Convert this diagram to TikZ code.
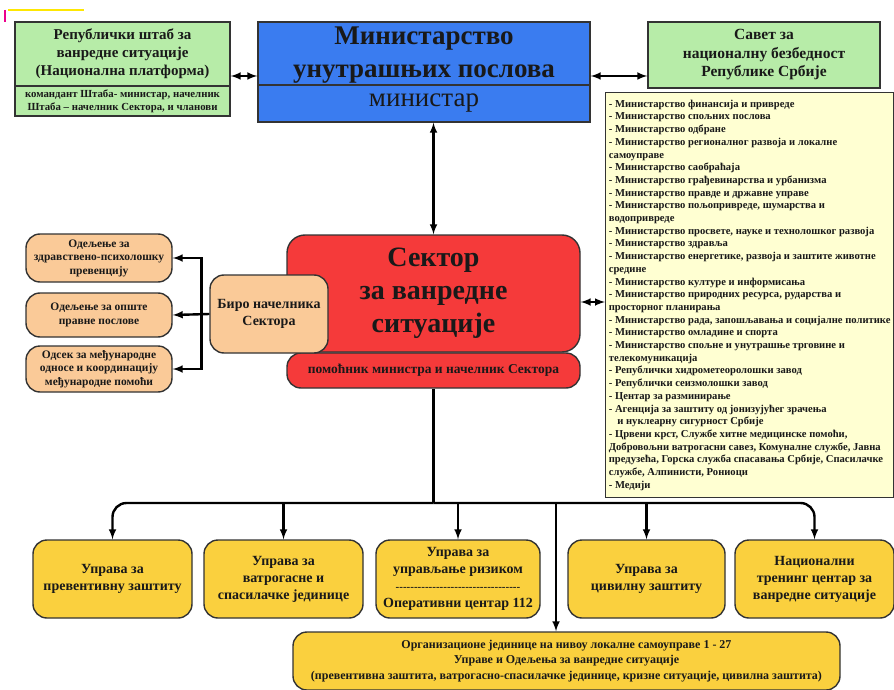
\documentclass[tikz,border=0pt]{standalone}
\usepackage{fontspec}
\setmainfont{Liberation Serif}[Ligatures=TeXOff]
\usepackage{tikz}
\usetikzlibrary{calc}

\definecolor{stabgreen}{RGB}{183,236,168}
\definecolor{mupblue}{RGB}{58,124,240}
\definecolor{sectorred}{RGB}{245,58,58}
\definecolor{biroorange}{RGB}{250,202,152}
\definecolor{upravagold}{RGB}{250,208,62}
\definecolor{listyellow}{RGB}{255,255,210}

\begin{document}
\begin{tikzpicture}[x=1pt, y=-1pt,
		box/.style={draw=black!80, line width=1.4pt, align=center, inner sep=0pt, text=black!90},
		flatbox/.style={box},
		roundbox/.style={box, rounded corners=14pt},
		link/.style={line width=2.4pt, black},
		both/.style={link, latex-latex},
		tip/.style={link, -latex},
		odel/.style={roundbox, fill=biroorange, minimum width=146, font=\fontsize{11.5}{13.5}\selectfont\bfseries},
		uprava/.style={roundbox, fill=upravagold, minimum height=78, font=\fontsize{14}{17}\selectfont\bfseries},
	]
		\fill[white] (0,0) rectangle (894,690);
		\useasboundingbox (0,0) rectangle (894,690);
		
		\coordinate (toprow) at (0,76);
		\coordinate (listrow) at (0,302);
		\coordinate (bus) at (433,503);
		\coordinate (lokal) at (556,503);
		
		% marks in the corner
		\draw[yellow!90!orange, line width=1.5pt] (8,10) -- (84,10);
		\draw[magenta, line width=1.5pt] (5,10) -- (5,22);
		
		% top row
		\node[flatbox, fill=stabgreen, minimum width=215, minimum height=64, font=\fontsize{15}{18}\selectfont\bfseries] (shtab) at (122.5,54) {Републички штаб за\\ванредне ситуације\\(Национална платформа)};
		\node[flatbox, fill=stabgreen, minimum width=215, minimum height=30, font=\fontsize{10.8}{13}\selectfont\bfseries] (shtabsub) at (122.5,101) {командант Штаба- министар, начелник\\Штаба – начелник Сектора, и чланови};
		\node[flatbox, fill=mupblue, minimum width=332, minimum height=63, font=\fontsize{27}{33}\selectfont\bfseries] (mup) at (424,53.5) {\rule{0pt}{20pt}Министарство\\унутрашњих послова};
		\node[flatbox, fill=mupblue, minimum width=332, minimum height=37, font=\fontsize{27}{30}\selectfont] (mupmin) at (424,103.5) {министар};
		\node[flatbox, fill=stabgreen, minimum width=232, minimum height=66, font=\fontsize{15.5}{18.5}\selectfont\bfseries] (savet) at (764,55) {Савет за\\националну безбедност\\Републике Србије};
		
		% list of ministries
		\node[flatbox, fill=listyellow, align=left, anchor=north west, minimum width=288, minimum height=405, font=\fontsize{10.6}{12.7}\selectfont\bfseries] (list) at (605,92) {- Министарство финансија и привреде\\
			- Министарство спољних послова\\
			- Министарство одбране\\
			- Министарство регионалног развоја и локалне\\
			самоуправе\\
			- Министарство саобраћаја\\
			- Министарство грађевинарства и урбанизма\\
			- Министарство правде и државне управе\\
			- Министарство пољопривреде, шумарства и\\
			водопривреде\\
			- Министарство просвете, науке и технолошког развоја\\
			- Министарство здравља\\
			- Министарство енергетике, развоја и заштите животне\\
			средине\\
			- Министарство културе и информисања\\
			- Министарство природних ресурса, рударства и\\
			просторног планирања\\
			- Министарство рада, запошљавања и социјалне политике\\
			- Министарство омладине и спорта\\
			- Министарство спољне и унутрашње трговине и\\
			телекомуникација\\
			- Републички хидрометеоролошки завод\\
			- Републички сеизмолошки завод\\
			- Центар за разминирање\\
			- Агенција за заштиту од јонизујућег зрачења\\
			\hspace*{0.8em}и нуклеарну сигурност Србије\\
			- Црвени крст, Службе хитне медицинске помоћи,\\
			Добровољни ватрогасни савез, Комуналне службе, Јавна\\
			предузећа, Горска служба спасавања Србије, Спасилачке\\
			службе, Алпинисти, Рониоци\\
			- Медији};
		
		% sector
		\node[roundbox, rounded corners=18pt, fill=sectorred, minimum width=293, minimum height=117, font=\fontsize{28}{33}\selectfont\bfseries] (sector) at (433.5,293.5) {Сектор\\за ванредне\\ситуације};
		\node[roundbox, fill=sectorred, minimum width=293, minimum height=35, font=\fontsize{13.5}{16}\selectfont\bfseries] (pomocnik) at (433.5,370.5) {помоћник министра и начелник Сектора};
		\node[roundbox, fill=biroorange, minimum width=118, minimum height=78, font=\fontsize{14}{17}\selectfont\bfseries] (biro) at (269,314) {Биро начелника\\Сектора};
		
		\node[odel, minimum height=48] (odel1) at (99,258) {Одељење за\\здравствено-психолошку\\превенцију};
		\node[odel, minimum height=44] (odel2) at (99,315) {Одељење за опште\\правне послове};
		\node[odel, minimum height=46] (odel3) at (99,369) {Одсек за међународне\\односе и координацију\\међународне помоћи};
		
		% directorates
		\node[uprava, minimum width=159] (u1) at (112.5,579) {Управа за\\превентивну заштиту};
		\node[uprava, minimum width=159] (u2) at (283.5,579) {Управа за\\ватрогасне и\\спасилачке јединице};
		\node[uprava, minimum width=164] (u3) at (458,579) {Управа за\\управљање ризиком\\{\fontsize{11}{17}\selectfont ----------------------------------}\\Оперативни центар 112};
		\node[uprava, minimum width=157] (u4) at (646.5,579) {Управа за\\цивилну заштиту};
		\node[uprava, minimum width=159] (u5) at (814.5,579) {Национални\\тренинг центар за\\ванредне ситуације};
		\node[roundbox, fill=upravagold, minimum width=547, minimum height=58, font=\fontsize{12}{15.5}\selectfont\bfseries] (org) at (566.5,661) {Организационе јединице на нивоу локалне самоуправе 1 - 27\\Управе и Одељења за ванредне ситуације\\(превентивна заштита, ватрогасно-спасилачке јединице, кризне ситуације, цивилна заштита)};
		
		% connectors
		\draw[both] (shtab.east |- toprow) -- (mup.west |- toprow);
		\draw[both] (mup.east |- toprow) -- (savet.west |- toprow);
		\draw[both] (mupmin.south -| sector.north) -- (sector.north);
		\draw[both] (sector.east |- listrow) -- (list.west |- listrow);
		
		\draw[tip] (biro.west) -- (odel2.east);
		\draw[tip] (biro.west) -- ++(-8,0) |- (odel1.east);
		\draw[tip] (biro.west) -- ++(-8,0) |- (odel3.east);
		
		\draw[link] (pomocnik.south) -- (pomocnik.south |- bus);
		\draw[tip, rounded corners=14pt] (pomocnik.south |- bus) -| (u1.north);
		\draw[tip, rounded corners=14pt] (pomocnik.south |- bus) -| (u5.north);
		\draw[tip] (u2.north |- bus) -- (u2.north);
		\draw[tip] (u3.north |- bus) -- (u3.north);
		\draw[tip] (u4.north |- bus) -- (u4.north);
		\draw[tip] (lokal) -- (lokal |- org.north);
	\end{tikzpicture}
\end{document}
